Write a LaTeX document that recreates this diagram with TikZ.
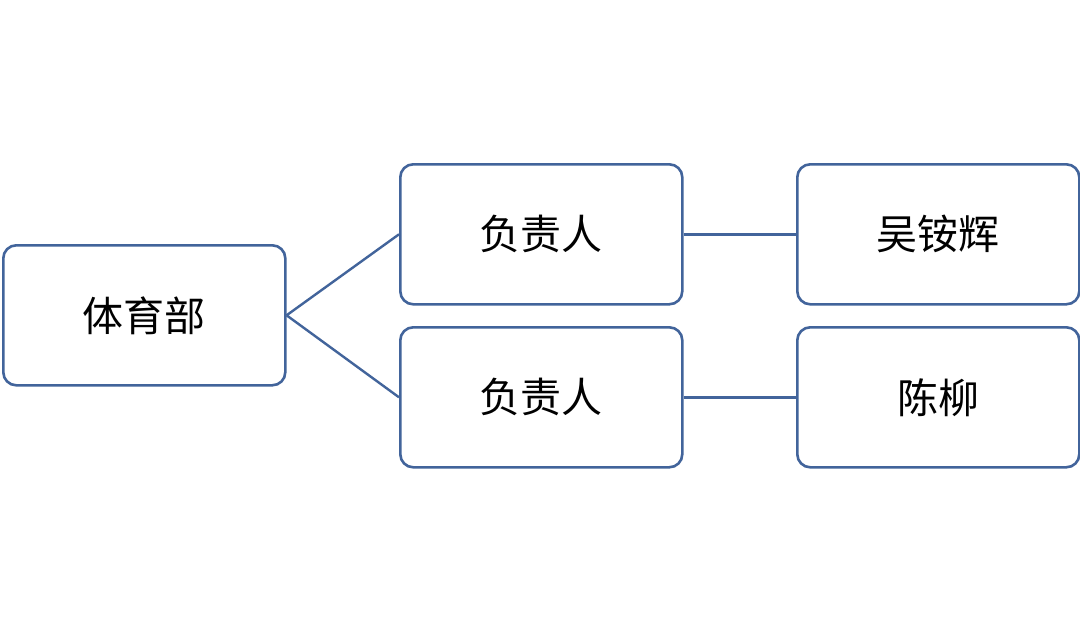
\documentclass[tikz,border=0pt]{standalone}
\usepackage{fontspec}
\newfontfamily\cjk{Noto Sans CJK SC}
\definecolor{boxblue}{RGB}{66,100,155}
\begin{document}
\begin{tikzpicture}[x=1pt,y=-1pt,
  orgbox/.style={draw=boxblue,line width=2.6pt,rounded corners=13pt,minimum width=282pt,minimum height=140pt,inner sep=0pt,font=\cjk\fontsize{41}{49}\selectfont,anchor=north west,fill=white},
  link/.style={draw=boxblue,line width=2.4pt}]
\useasboundingbox[fill=white] (0,0) rectangle (1080,629);
\node[orgbox] (dept) at (2,244) {体育部};
\node[orgbox] (lead1) at (399,163) {负责人};
\node[orgbox] (lead2) at (399,326) {负责人};
\node[orgbox] (name1) at (796,163) {吴铵辉};
\node[orgbox] (name2) at (796,326) {陈柳};
\draw[link] (dept.east) -- (lead1.west);
\draw[link] (dept.east) -- (lead2.west);
\draw[link] (lead1.east) -- (name1.west);
\draw[link] (lead2.east) -- (name2.west);
\end{tikzpicture}
\end{document}
